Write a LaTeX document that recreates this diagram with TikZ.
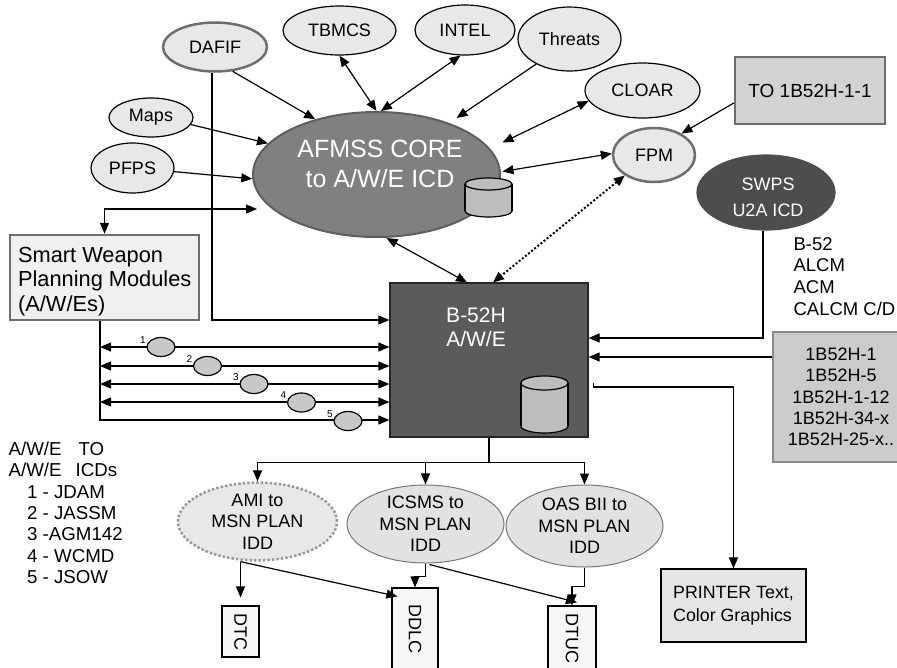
\documentclass[tikz,border=0pt]{standalone}
\usepackage{fontspec}
\setmainfont{Liberation Sans}
\usepackage{graphicx}
\usetikzlibrary{arrows.meta,shapes.geometric}

\definecolor{lightfill}{HTML}{E8E8E8}
\definecolor{grayborder}{HTML}{6E6E6E}
\definecolor{corefill}{HTML}{808080}
\definecolor{coreborder}{HTML}{5E5E5E}
\definecolor{darkfill}{HTML}{4D4D4D}
\definecolor{boxfill}{HTML}{5B5B5B}
\definecolor{cylfill}{HTML}{BDBDBD}
\definecolor{tofill}{HTML}{D3D3D3}
\definecolor{smartfill}{HTML}{F0F0F0}
\definecolor{listfill}{HTML}{CBCBCB}
\definecolor{listborder}{HTML}{8C8C8C}
\definecolor{printfill}{HTML}{E5E5E5}
\definecolor{smallfill}{HTML}{C8C8C8}
\definecolor{iddborder}{HTML}{777777}
\definecolor{iddfill}{HTML}{E2E2E2}
\definecolor{dotborder}{HTML}{999999}
\definecolor{outfill}{HTML}{F7F7F7}

\begin{document}
\begin{tikzpicture}[x=1pt,y=-1pt, >={Triangle[length=11pt,width=9pt]}, line width=1.2pt,
  f18/.style={font=\fontsize{18}{21.3}\selectfont},
  ell/.style={ellipse, draw=black, fill=lightfill, inner sep=0pt, f18, align=center},
  ellg/.style={ell, draw=grayborder, line width=2.5pt},
  idd/.style={ell, draw=iddborder, line width=1pt, fill=iddfill, minimum width=157pt},
  sm/.style={ellipse, draw=black, fill=smallfill, minimum width=28pt, minimum height=19pt, inner sep=0pt},
  smlab/.style={font=\fontsize{10}{12}\selectfont, inner sep=0pt},
  outbox/.style={rectangle, draw=black, fill=outfill, inner sep=0pt, f18},
  plain/.style={inner sep=0pt, f18, align=left},
]
\useasboundingbox (0,0) rectangle (897,667);

% ---------- top ellipses ----------
\node[ellg, minimum width=104pt, minimum height=49pt] (dafif) at (215,47) {DAFIF};
\node[ell, minimum width=113pt, minimum height=49pt] (tbmcs) at (339.5,30.5) {TBMCS};
\node[ell, minimum width=100pt, minimum height=50pt] (intel) at (465,30) {INTEL};
\node[ell, minimum width=103pt, minimum height=64pt] (threats) at (569.5,39) {Threats};
\node[ell, minimum width=115pt, minimum height=55pt] (cloar) at (642.5,90.5) {CLOAR};
\node[ellg, minimum width=82pt, minimum height=54pt] (fpm) at (654,155) {FPM};
\node[ell, minimum width=84pt, minimum height=39pt] (maps) at (151,117.5) {Maps};
\node[ell, minimum width=83pt, minimum height=50pt] (pfps) at (132.5,168) {PFPS};
\node[ellipse, fill=darkfill, draw=darkfill, inner sep=0pt,
      minimum width=138pt, minimum height=75pt] (swps) at (766,192.5) {};
\node[plain, align=center, text=white, font=\fontsize{18}{26}\selectfont] (swpstxt) at (768,197) {SWPS\\U2A ICD};

% ---------- AFMSS core ----------
\node[ellipse, fill=corefill, draw=coreborder, line width=2pt, minimum width=247pt, minimum height=125pt, inner sep=0pt] (afmss) at (376.5,174.5) {};
\node[plain, align=center, text=white, font=\fontsize{25}{30}\selectfont, anchor=north] (afmsstxt) at (380,139) {AFMSS CORE\\to A/W/E ICD};
% database cylinder
\filldraw[fill=cylfill] (488.5,211) ellipse [x radius=23.5pt, y radius=6pt];
\fill[cylfill] (465,184) rectangle (512,211);
\draw (465,184) -- (465,211) (512,184) -- (512,211);
\filldraw[fill=cylfill] (488.5,184) ellipse [x radius=23.5pt, y radius=6pt];

% ---------- boxes ----------
\node[rectangle, fill=tofill, draw=grayborder, line width=2.5pt, minimum width=150pt, minimum height=67pt, inner sep=0pt,
      font=\fontsize{19}{22}\selectfont] (to1b) at (810,90.5) {TO 1B52H-1-1};
\node[rectangle, fill=smartfill, draw=grayborder, line width=2.5pt, minimum width=189pt, minimum height=85pt, inner sep=0pt] (smart) at (104.5,277.5) {};
\node[plain, anchor=north west, font=\fontsize{21.8}{24.5}\selectfont] (smarttxt) at (17.5,246.2) {Smart Weapon\\Planning Modules\\(A/W/Es)};

\node[rectangle, fill=boxfill, draw=black!85, line width=1.2pt, minimum width=198pt, minimum height=154pt, inner sep=0pt] (b52) at (489,360) {};
\node[plain, align=center, text=white, font=\fontsize{21}{24}\selectfont, anchor=north] (b52txt) at (476,307.7) {B-52H\\A/W/E};
\filldraw[fill=cylfill] (544.5,426) ellipse [x radius=23.5pt, y radius=7pt];
\fill[cylfill] (521,383) rectangle (568,426);
\draw (521,383) -- (521,426) (568,383) -- (568,426);
\filldraw[fill=cylfill] (544.5,383) ellipse [x radius=23.5pt, y radius=7pt];

\node[plain, anchor=north west, font=\fontsize{18.5}{21.6}\selectfont] (wlist) at (793,236.8) {B-52\\ALCM\\ACM\\CALCM C/D};

\node[rectangle, fill=listfill, draw=listborder, line width=1.5pt, minimum width=136pt, minimum height=130pt, inner sep=0pt,
      f18, align=center] (lst) at (841,397) {1B52H-1\\1B52H-5\\1B52H-1-12\\1B52H-34-x\\1B52H-25-x..};

\node[rectangle, fill=printfill, draw=black, line width=1.2pt, minimum width=145pt, minimum height=73pt, inner sep=0pt,
      align=left, font=\fontsize{17.8}{23}\selectfont] (printer) at (733.5,605.5) {PRINTER Text,\\Color Graphics};

% ---------- legend ----------
\node[plain, anchor=north west, font=\fontsize{18.7}{21.3}\selectfont] (legend) at (8,441.5)
  {A/W/E\hspace{17pt}TO\\A/W/E\hspace{14pt}ICDs\\\hspace*{18.5pt}1 - JDAM\\\hspace*{18.5pt}2 - JASSM\\\hspace*{18.5pt}3 -AGM142\\\hspace*{18.5pt}4 - WCMD\\\hspace*{18.5pt}5 - JSOW};

% ---------- bottom ellipses and outputs ----------
\node[ell, draw=dotborder, dotted, line width=2.5pt, minimum width=159pt, minimum height=73pt] (ami) at (257.5,521.5) {AMI  to\\MSN PLAN\\IDD};
\node[idd, minimum height=78pt] (icsms) at (425.5,524) {ICSMS to\\MSN PLAN\\IDD};
\node[idd, minimum height=82pt] (oas) at (584.5,526) {OAS BII to\\MSN PLAN\\IDD};

\node[outbox, minimum width=37pt, minimum height=51pt] (dtc) at (240.5,631.5) {\rotatebox{-90}{DTC}};
\node[outbox, minimum width=46pt, minimum height=82pt] (ddlc) at (415,629) {\rotatebox{-90}{DDLC}};
\node[outbox, minimum width=48pt, minimum height=64pt] (dtuc) at (572,638) {\rotatebox{-90}{DTUC}};

% ---------- connectors to AFMSS ----------
\draw[->] (dafif.-54) -- (afmss.138);
\draw[->] (maps.-10) -- (afmss.164);
\draw[->] (pfps.-5) -- (afmss.182);
\draw[<->] (tbmcs.south) -- (afmss.north);
\draw[<->] (intel.-100) -- (afmss.86);
\draw[->] (threats.217) -- ([shift={(80,-56.5)}]afmss.center);
\draw[<->] (cloar.191) -- ([shift={(126,-32)}]afmss.center);
\draw[<->] (fpm.178) -- ([shift={(126,-3)}]afmss.center);
\draw[->] ([shift={(0,12.5)}]to1b.west) -- (fpm.38);
\draw[<->] (smart.north) |- ([shift={(-119.5,34.5)}]afmss.center);

% ---------- connectors to B-52H ----------
\draw[<->, dotted, line width=2pt] (fpm.215) -- ([shift={(4,0)}]b52.north);
\draw[<->] ([shift={(10,0)}]afmss.south) -- ([shift={(-22,0)}]b52.north);
\draw[->] ([shift={(-3,0)}]dafif.south) |- ([shift={(0,-40)}]b52.west);

\coordinate (bus) at ([shift={(-4.5,0)}]smart.south);
\coordinate (w1) at ([shift={(0,-13)}]b52.west);
\coordinate (w2) at ([shift={(0,6)}]b52.west);
\coordinate (w3) at ([shift={(0,24)}]b52.west);
\coordinate (w4) at ([shift={(0,42)}]b52.west);
\coordinate (w5) at ([shift={(0,60)}]b52.west);
\draw[->] (bus) |- (w5);
\draw[<->] (bus |- w1) -- (w1);
\draw[<->] (bus |- w2) -- (w2);
\draw[<->] (bus |- w3) -- (w3);
\draw[<->] (bus |- w4) -- (w4);
\node[sm] (i1) at (161,347) {};
\node[sm] (i2) at (207.5,366) {};
\node[sm] (i3) at (254,384) {};
\node[sm] (i4) at (301.5,402.5) {};
\node[sm] (i5) at (348,421) {};
\node[smlab] (l1) at (143,340) {1};
\node[smlab] (l2) at (189.5,359) {2};
\node[smlab] (l3) at (236,377) {3};
\node[smlab] (l4) at (283.5,395.5) {4};
\node[smlab] (l5) at (330,414) {5};

\draw[->] ([shift={(-3,0)}]swps.south) |- ([shift={(0,-22)}]b52.east);
\coordinate (e2) at ([shift={(0,-3)}]b52.east);
\draw[->] (lst.west |- e2) -- (e2);
\coordinate (pstart) at ([shift={(5,23)}]b52.east);
\draw[->] (pstart) -- ++(0,4) -| (printer.north);

% ---------- bottom tree ----------
\coordinate (hb) at ([shift={(0,25)}]b52.south);
\draw (b52.south) -- (hb);
\draw[->] (hb) -| (ami.north);
\draw[->] (hb) -| (icsms.north);
\draw[->] (hb) -| (oas.north);

\coordinate (amib) at (dtc.north |- ami.south);
\draw[->] (amib) -- ([shift={(0,-8)}]dtc.north);
\draw[->] (amib) -- ([shift={(6,9)}]ddlc.north west);
\draw[->] (icsms.south) -- ++(0,13) -| (ddlc.north);
\draw[->] ([shift={(4,1)}]icsms.south) -- ([shift={(5,-3)}]dtuc.north);
\draw[->] (oas.south) -- ++(0,19) -| (dtuc.north);
\end{tikzpicture}
\end{document}
